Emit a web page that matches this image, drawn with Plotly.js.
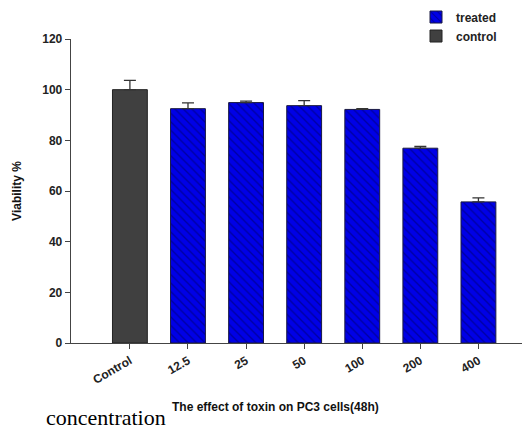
<!DOCTYPE html>
<html>
<head>
<meta charset="utf-8">
<script src="https://cdn.plot.ly/plotly-3.0.1.min.js"></script>
<style>html,body{margin:0;padding:0;background:#fff;}#chart{width:524px;height:433px;}</style>
</head>
<body>
<div id="chart"></div>
<script>
const categories = ['Control', '12.5', '25', '50', '100', '200', '400'];
const controlLabels = ['Control'];
const controlValues = [100];
const controlErrors = [3.7];
const treatedLabels = ['12.5', '25', '50', '100', '200', '400'];
const treatedValues = [92.5, 94.9, 93.7, 92.2, 76.9, 55.7];
const treatedErrors = [2.3, 0.6, 2.0, 0.3, 0.7, 1.6];
const yTicks = [0, 20, 40, 60, 80, 100, 120];

const FONT = 'Liberation Sans, Arial, sans-serif';

const errStyle = {type: 'data', symmetric: false, color: '#333333', thickness: 1.3, width: 6};

const treated = {
  type: 'bar', name: 'treated', x: treatedLabels, y: treatedValues, width: 0.6,
  marker: {color: '#0000e6', line: {color: '#1a1a40', width: 1},
           pattern: {shape: '\\', fgcolor: '#0000a0', bgcolor: '#0000e6', size: 6, solidity: 0.22}},
  error_y: Object.assign({}, errStyle, {array: treatedErrors, arrayminus: treatedValues.map(() => 0)}),
  hoverinfo: 'x+y'
};
const control = {
  type: 'bar', name: 'control', x: controlLabels, y: controlValues, width: 0.6,
  marker: {color: '#404040', line: {color: '#222222', width: 1}},
  error_y: Object.assign({}, errStyle, {array: controlErrors, arrayminus: controlValues.map(() => 0)}),
  hoverinfo: 'x+y'
};

const layout = {
  width: 524, height: 433,
  margin: {l: 71, r: 2, t: 37, b: 90},
  paper_bgcolor: '#ffffff', plot_bgcolor: '#ffffff',
  barmode: 'overlay',
  font: {family: FONT, color: '#222222', size: 12},
  showlegend: true,
  legend: {x: 0.765, xanchor: 'left', y: 1.12, yanchor: 'top', bgcolor: 'rgba(0,0,0,0)',
           font: {family: FONT, size: 12, color: '#222222', weight: 'bold'}, tracegroupgap: 0, itemwidth: 30},
  xaxis: {
    type: 'category', categoryorder: 'array', categoryarray: categories,
    range: [-1.014, 6.75], showgrid: false, zeroline: false,
    showline: true, linecolor: '#444444', linewidth: 1.3,
    ticks: 'outside', ticklen: 5, tickcolor: '#444444', tickangle: -30,
    tickfont: {family: FONT, size: 12, color: '#222222', weight: 'bold'}
  },
  yaxis: {
    range: [0, 120], tickvals: yTicks, showgrid: false, zeroline: false,
    showline: true, linecolor: '#444444', linewidth: 1.3,
    ticks: 'outside', ticklen: 5, tickcolor: '#444444',
    tickfont: {family: FONT, size: 12, color: '#222222', weight: 'bold'},
    title: {text: 'Viability %', standoff: 18,
            font: {family: FONT, size: 12, color: '#111111', weight: 'bold'}}
  },
  annotations: [{
    text: 'The effect of toxin on PC3 cells(48h)', xref: 'paper', yref: 'paper',
    x: 0.453, y: -0.212, xanchor: 'center', yanchor: 'middle', showarrow: false,
    font: {family: FONT, size: 12, color: '#111111', weight: 'bold'}
  }, {
    text: 'concentration', xref: 'paper', yref: 'paper', x: -0.058, y: -0.29,
    xanchor: 'left', yanchor: 'bottom', showarrow: false, borderpad: 0,
    font: {family: 'Liberation Serif, Times New Roman, serif', size: 22, color: '#000000'}
  }]
};

Plotly.newPlot('chart', [treated, control], layout, {displayModeBar: false, staticPlot: true});
</script>
</body>
</html>
